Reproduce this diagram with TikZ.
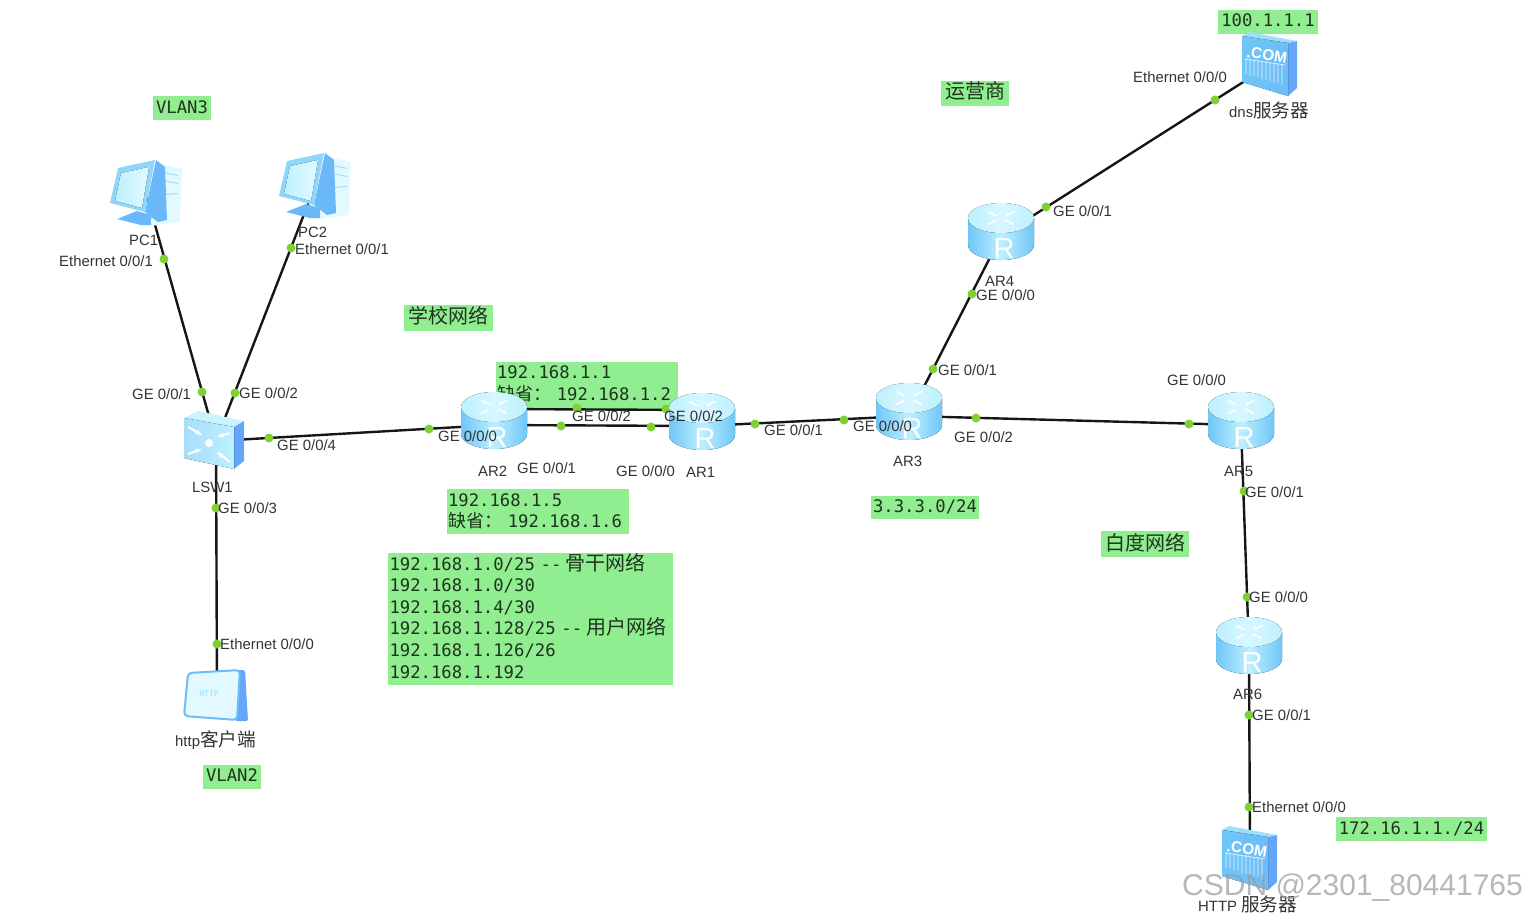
\documentclass[tikz,border=0pt]{standalone}
\usepackage{fontspec}
\usepackage{xcolor}
\usetikzlibrary{arrows.meta,positioning,calc}
\setmainfont{Liberation Sans}
\setmonofont{DejaVu Sans Mono}
\newfontfamily\cjk{Noto Sans CJK SC}
\newcommand{\zh}[2][18.6]{{\fontsize{#1}{#1}\cjk #2}}
\definecolor{boxfill}{HTML}{90EE90}
\definecolor{boxtext}{HTML}{1F321F}
\definecolor{labtext}{HTML}{303438}
\definecolor{linkline}{HTML}{161616}
\definecolor{portdot}{HTML}{7FD032}
\definecolor{iceblue}{HTML}{BDF0FF}
\definecolor{paleblue}{HTML}{E2FAFF}
\definecolor{midblue}{HTML}{6FC6F8}
\definecolor{deepblue}{HTML}{66A6FA}
\tikzset{
  devnode/.style={inner sep=0pt, minimum size=0pt},
  link/.style={draw=linkline, line width=2.4pt},
  port/.style={circle, fill=portdot, inner sep=0pt, minimum size=9pt},
  lab/.style={anchor=west, inner sep=0pt, text=labtext, font=\fontsize{14.9}{16}\selectfont},
  greenbox/.style={fill=boxfill, text=boxtext, inner sep=0pt, align=left,
                   font=\ttfamily\fontsize{17.25}{21.6}\selectfont},
  pics/routericon/.style={code={
    \fill[left color=midblue, right color=midblue, middle color=iceblue]
      (-33,-18) -- (-33,9) arc[start angle=180, end angle=0, x radius=33, y radius=15]
      -- (33,-18) -- cycle;
    \fill[left color=iceblue, right color=iceblue, middle color=paleblue!70!iceblue]
      (0,-18) ellipse[x radius=33, y radius=15];
    \begin{scope}[shift={(0,-18)}, yscale=0.5]
      \foreach \ang in {45,225}
        {\draw[white, line width=1.4pt, -{Stealth[length=4pt]}] (\ang:6) -- (\ang:19);}
      \foreach \ang in {135,315}
        {\draw[white, line width=1.4pt, -{Stealth[length=4pt]}] (\ang:19) -- (\ang:6);}
    \end{scope}
    \node[text=white, inner sep=0pt, font=\fontsize{29}{29}\selectfont] (-r) at (3,13) {R};
  }},
  pics/pcicon/.style={code={
    \fill[paleblue] (10,-30) -- (36,-24) -- (34,29) -- (5,33) -- cycle;
    \fill[iceblue!60!midblue] (18,-21) -- (32,-18) -- (32,-17) -- (18,-20) -- cycle;
    \fill[iceblue!60!midblue] (18,-13) -- (32,-10) -- (32,-9) -- (18,-12) -- cycle;
    \fill[iceblue!60!midblue] (18,1) -- (32,0) -- (32,1) -- (18,2) -- cycle;
    \fill[midblue!55!deepblue] (10,-33) -- (19,-26) -- (21,27) -- (12,29) -- (-1,19) -- cycle;
    \fill[midblue!55!deepblue] (-29,26) -- (-14,20) -- (-9,18) -- (5,22) -- (5,32) -- (-5,32) -- cycle;
    \fill[midblue!60!iceblue] (-36,10) -- (-28,-25) -- (9,-33) -- (-1,19) -- cycle;
    \fill[left color=iceblue, right color=paleblue] (-31,8) -- (-25,-20) -- (3,-26) -- (-4,15) -- cycle;
  }},
  pics/switchicon/.style={code={
    \fill[iceblue!80!white] (-30,-23) -- (-16,-30) -- (30,-20) -- (20,-14) -- cycle;
    \fill[deepblue] (20,-14) -- (30,-20) -- (30,20) -- (20,28) -- cycle;
    \fill[left color=midblue!60!white, right color=iceblue] (-30,-23) -- (20,-14) -- (20,28) -- (-30,17) -- cycle;
    \fill[white] (-5,2) circle[radius=4];
    \foreach \px/\py/\qx/\qy in {-26/-14/-12/-6, 16/-8/3/-4, -26/13/-12/8, 16/21/3/11}
      {\draw[white, line width=2pt, -{Stealth[length=7pt]}] (\px,\py) -- (\qx,\qy);}
  }},
  pics/servericon/.style={code={
    \fill[iceblue!60!midblue] (-28,-29) -- (-21,-33) -- (27,-24) -- (18,-22) -- cycle;
    \fill[deepblue] (18,-22) -- (27,-24) -- (27,23) -- (18,31) -- cycle;
    \fill[left color=midblue, right color=midblue!70!deepblue] (-28,-29) -- (18,-22) -- (18,31) -- (-28,17) -- cycle;
    \draw[white, opacity=0.7, line width=0.8pt] (-25,-6) -- (15,0);
    \foreach \sx in {-24,-20,...,14}
      {\draw[white, opacity=0.3, line width=1.3pt] (\sx,{-3+0.15*\sx}) -- (\sx,{16+0.3*\sx});}
    \node[text=white, inner sep=0pt, rotate=-9, font=\bfseries\fontsize{15.5}{16}\selectfont] (-com) at (-3,-10) {.COM};
  }},
  pics/httpicon/.style={code={
    \fill[deepblue, rounded corners=2pt] (20,-26) -- (29,-26) -- (32,25) -- (19,25) -- cycle;
    \draw[draw=midblue!70!deepblue, fill=paleblue, line width=2pt, rounded corners=4pt]
      (-28,-23) -- (24,-26) -- (21,24) -- (-32,20) -- cycle;
    \node[text=iceblue!80!midblue, inner sep=0pt, font=\ttfamily\bfseries\fontsize{8}{8}\selectfont] (-txt) at (-7,-2) {HTTP};
  }}
}
\begin{document}
\begin{tikzpicture}[x=1pt,y=-1pt]
  \useasboundingbox (0,0) rectangle (1526,914);
  % address boxes
  \node[greenbox,minimum width=58,minimum height=24,align=center,text depth=2pt] (vlan3) at (182,108) {VLAN3};
  \node[greenbox,minimum width=58,minimum height=24,align=center,text depth=4pt] (vlan2) at (232,777) {VLAN2};
  \node[greenbox,minimum width=68,minimum height=25,align=center,text depth=7pt] (isp) at (975,93.5) {\zh[20]{运营商}};
  \node[greenbox,minimum width=89,minimum height=26,align=center,text depth=7pt] (school) at (448.5,318) {\zh[20]{学校网络}};
  \node[greenbox,minimum width=88,minimum height=26,align=center,text depth=5pt] (baidu) at (1145,544) {\zh[20]{白度网络}};
  \node[greenbox,minimum width=108,minimum height=23,align=center,text depth=3pt] (net3) at (925,507.5) {3.3.3.0/24};
  \node[greenbox,minimum width=100,minimum height=24,align=center,text depth=4pt] (dnsip) at (1268,22) {100.1.1.1};
  \node[greenbox,minimum width=151,minimum height=24,align=center] (httpip) at (1411.5,829) {172.16.1.1./24};
  \node[greenbox,minimum width=182,minimum height=48,text width=180,text depth=27.8pt] (gw1) at (587,386)
    {192.168.1.1\\\zh[18]{缺省：} 192.168.1.2};
  \node[greenbox,minimum width=182,minimum height=45,text width=180] (gw2) at (538,511.5)
    {192.168.1.5\\\zh[18]{缺省：} 192.168.1.6};
  \node[greenbox,minimum width=285,minimum height=130,text width=282,text depth=115pt] (nets) at (530.5,619)
    {192.168.1.0/25 --\hspace{4pt}\zh[20]{骨干网络}\\192.168.1.0/30\\192.168.1.4/30\\192.168.1.128/25 --\hspace{4pt}\zh[20]{用户网络}\\192.168.1.126/26\\192.168.1.192};

  % devices
  \foreach \dev/\x/\y in {PC1/146/193,PC2/315/186,LSW1/216/441,httpc/217/696,AR2/494/425,AR1/702/426,
                          AR3/909/416,AR4/1001/236,AR5/1241/425,AR6/1249/650,dns/1270/65,https/1250/859}
    {\node[devnode] (\dev) at (\x,\y) {};}
  \coordinate (AR2up) at ($(AR2)+(0,-16)$);
  \coordinate (AR1up) at ($(AR1)+(0,-16)$);

  % links
  \draw[link] (PC1) -- (LSW1);
  \draw[link] (PC2) -- (LSW1);
  \draw[link] (LSW1) -- (AR2);
  \draw[link] (LSW1) -- (httpc);
  \draw[link] (AR2) -- (AR1);
  \draw[link] (AR2up) -- (AR1up);
  \draw[link] (AR1) -- (AR3);
  \draw[link] (AR3) -- (AR5);
  \draw[link] (AR3) -- (AR4);
  \draw[link] (AR4) -- (dns);
  \draw[link] (AR5) -- (AR6);
  \draw[link] (AR6) -- (https);

  \foreach \x/\y [count=\i] in {164/259,202/392,291/248,235/393,269/438,429/429,216/508,217/644,
                                577/408,666/409,561/426,651/427,755/424,844/420,976/418,1189/424,
                                933/369,972/294,1046/207,1215/100,1244/491,1247/597,1249/715,1249/807}
    {\node[port] (dot\i) at (\x,\y) {};}

  \pic (PC1i) at (PC1) {pcicon};
  \pic (PC2i) at (PC2) {pcicon};
  \pic (LSW1i) at (214,441) {switchicon};
  \pic (httpci) at (216,696) {httpicon};
  \foreach \dev in {AR1,AR2,AR3,AR4,AR5,AR6}
    {\pic (\dev i) at (\dev) {routericon};}
  \pic (dnsi) at (dns) {servericon};
  \pic (httpsi) at (https) {servericon};

  % port and device names
  \foreach \x/\y/\lab [count=\i] in {
      59/261/{Ethernet 0/0/1},295/249/{Ethernet 0/0/1},132/394/{GE 0/0/1},239/393/{GE 0/0/2},
      277/445/{GE 0/0/4},218/508/{GE 0/0/3},220/644/{Ethernet 0/0/0},438/436/{GE 0/0/0},
      517/468/{GE 0/0/1},572/416/{GE 0/0/2},664/416/{GE 0/0/2},616/471/{GE 0/0/0},
      764/430/{GE 0/0/1},853/426/{GE 0/0/0},954/437/{GE 0/0/2},938/370/{GE 0/0/1},
      976/295/{GE 0/0/0},1053/211/{GE 0/0/1},1133/77/{Ethernet 0/0/0},1167/380/{GE 0/0/0},
      1245/492/{GE 0/0/1},1249/597/{GE 0/0/0},1252/715/{GE 0/0/1},1252/807/{Ethernet 0/0/0},
      129/240/PC1,298/232/PC2,192/487/LSW1,478/471/AR2,686/472/AR1,893/461/AR3,
      985/281/AR4,1224/471/AR5,1233/694/AR6,
      175/740/{http\zh{客户端}},1229/110/{dns\zh{服务器}},1198/904/{HTTP \zh{服务器}}}
    {\node[lab] (lab\i) at (\x,\y) {\lab};}

  \node[anchor=west,inner sep=0pt,text=gray!75,opacity=0.75,font=\fontsize{30}{30}\selectfont] (mark) at (1182,888) {CSDN @2301\_80441765};
\end{tikzpicture}
\end{document}
